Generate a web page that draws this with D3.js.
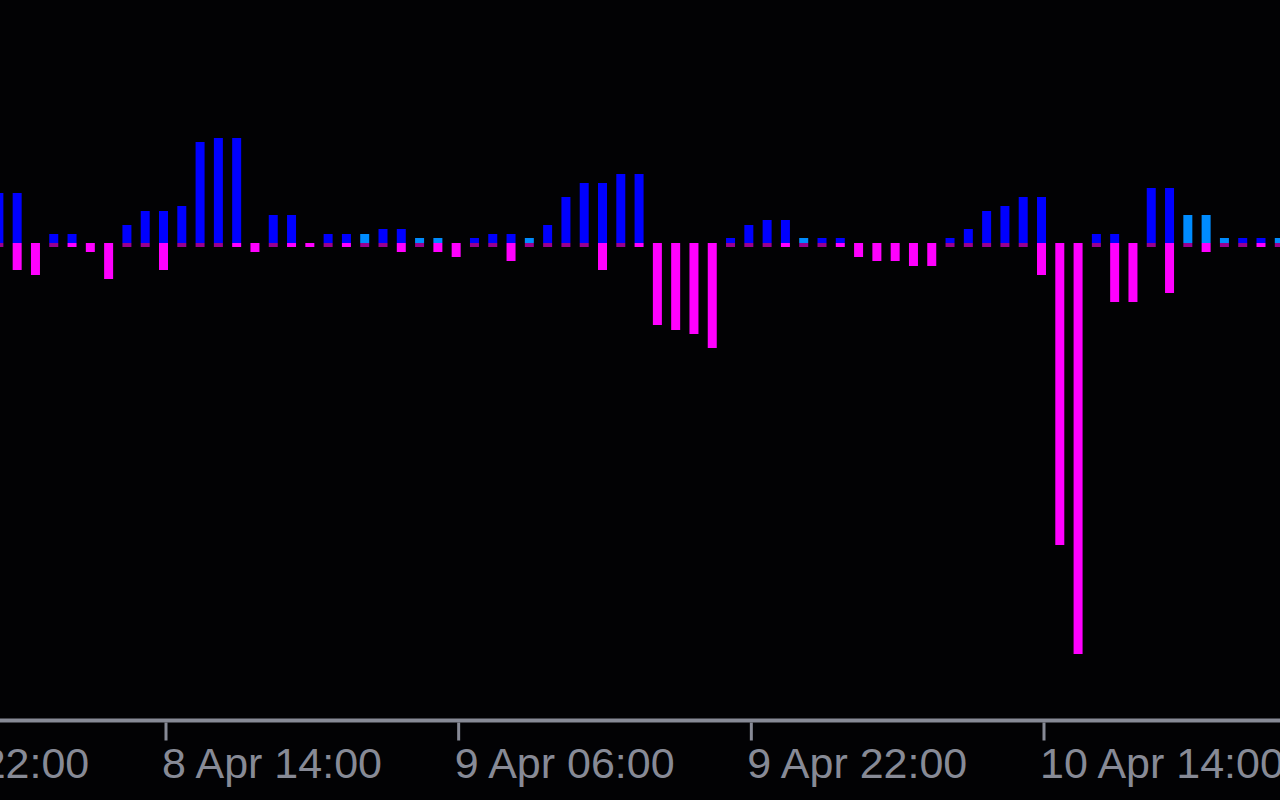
<!DOCTYPE html>
<html>
<head>
<meta charset="utf-8">
<script src="https://cdn.jsdelivr.net/npm/d3@7"></script>
<style>
  html, body { margin: 0; padding: 0; background: #020204; overflow: hidden; }
  svg { display: block; }
</style>
</head>
<body>
<svg id="chart" width="1280" height="800"></svg>
<script>
// ---- data ----
const firstHour = "2024-04-08T05:00:00Z";
const upValues = [50, 50, 0, 9, 9, 0, 0, 18, 32, 32, 37, 101, 105, 105, 0, 28, 28, 0, 9, 9,
                  9, 14, 14, 5, 5, 0, 5, 9, 9, 5, 18, 46, 60, 60, 69, 69, 0, 0, 0, 0,
                  5, 18, 23, 23, 5, 5, 5, 0, 0, 0, 0, 0, 5, 14, 32, 37, 46, 46, 0, 0,
                  9, 9, 0, 55, 55, 28, 28, 5, 5, 5, 5];
const downValues = [0, 27, 32, 0, 4, 9, 36, 0, 0, 27, 0, 0, 0, 4, 9, 0, 4, 4, 0, 4,
                    0, 0, 9, 0, 9, 14, 0, 0, 18, 0, 0, 0, 0, 27, 0, 4, 82, 87, 91, 105,
                    0, 0, 0, 4, 0, 0, 4, 14, 18, 18, 23, 23, 0, 0, 0, 0, 0, 32, 302, 411,
                    0, 59, 59, 0, 50, 0, 9, 0, 0, 4, 0];
const lightUpIndex = [20, 23, 24, 29, 44, 65, 66, 67, 70];
const tickTimes = ["2024-04-07T22:00:00Z", "2024-04-08T14:00:00Z", "2024-04-09T06:00:00Z",
                   "2024-04-09T22:00:00Z", "2024-04-10T14:00:00Z"];
const tickLabels = ["7 Apr 22:00", "8 Apr 14:00", "9 Apr 06:00", "9 Apr 22:00", "10 Apr 14:00"];

// ---- styles ----
const C = {
  bg: "#020204",
  up: "#0000ff",
  upLight: "#008cff",
  down: "#ff00ff",
  zero: "#990090",
  axis: "#878a96"
};

const start = new Date(firstHour);
const categories = d3.utcHour.range(start, d3.utcHour.offset(start, upValues.length));
const rows = categories.map((t, i) => ({
  t, up: upValues[i], down: downValues[i], light: lightUpIndex.includes(i)
}));

const svg = d3.select("#chart");
svg.append("rect").attr("width", 1280).attr("height", 800).attr("fill", C.bg);

const x = d3.scaleUtc()
  .domain([new Date("2024-04-08T14:00:00Z"), new Date("2024-04-10T14:00:00Z")])
  .range([164, 1042]);
const y = d3.scaleLinear().domain([0, 100]).range([243, 143]);

const barW = 9, stripH = 4;

const g = svg.append("g");
// up bars
g.selectAll("rect.up").data(rows.filter(d => d.up > 0)).join("rect")
  .attr("class", "up")
  .attr("x", d => x(d.t) - 5).attr("width", barW)
  .attr("y", d => y(d.up)).attr("height", d => y(0) - y(d.up))
  .attr("fill", d => d.light ? C.upLight : C.up);
// down bars
g.selectAll("rect.down").data(rows.filter(d => d.down > 0)).join("rect")
  .attr("class", "down")
  .attr("x", d => x(d.t) - 5).attr("width", barW)
  .attr("y", y(0)).attr("height", d => y(-d.down) - y(0))
  .attr("fill", C.down);
// zero strips
g.selectAll("rect.zero").data(rows.filter(d => d.down === 0)).join("rect")
  .attr("class", "zero")
  .attr("x", d => x(d.t) - 5).attr("width", barW)
  .attr("y", y(0)).attr("height", stripH)
  .attr("fill", C.zero);

// axis
const tickDates = tickTimes.map(s => new Date(s));
const axis = d3.axisBottom(x)
  .tickValues(tickDates)
  .tickFormat((d, i) => tickLabels[i])
  .tickSize(20)
  .tickSizeOuter(0)
  .offset(2);
const ax = svg.append("g").attr("transform", "translate(0,720.5)").call(axis);
ax.select(".domain").attr("d", "M0,0H1280").attr("stroke", C.axis).attr("stroke-width", 4);
ax.selectAll(".tick line").attr("stroke", C.axis).attr("stroke-width", 3).attr("y1", 2);
ax.selectAll(".tick text")
  .attr("fill", C.axis)
  .attr("text-anchor", "start")
  .attr("x", -4)
  .attr("y", 57.5)
  .attr("dy", 0)
  .style("font-family", "'Liberation Sans', Arial, sans-serif")
  .style("font-size", "43px");
</script>
</body>
</html>
